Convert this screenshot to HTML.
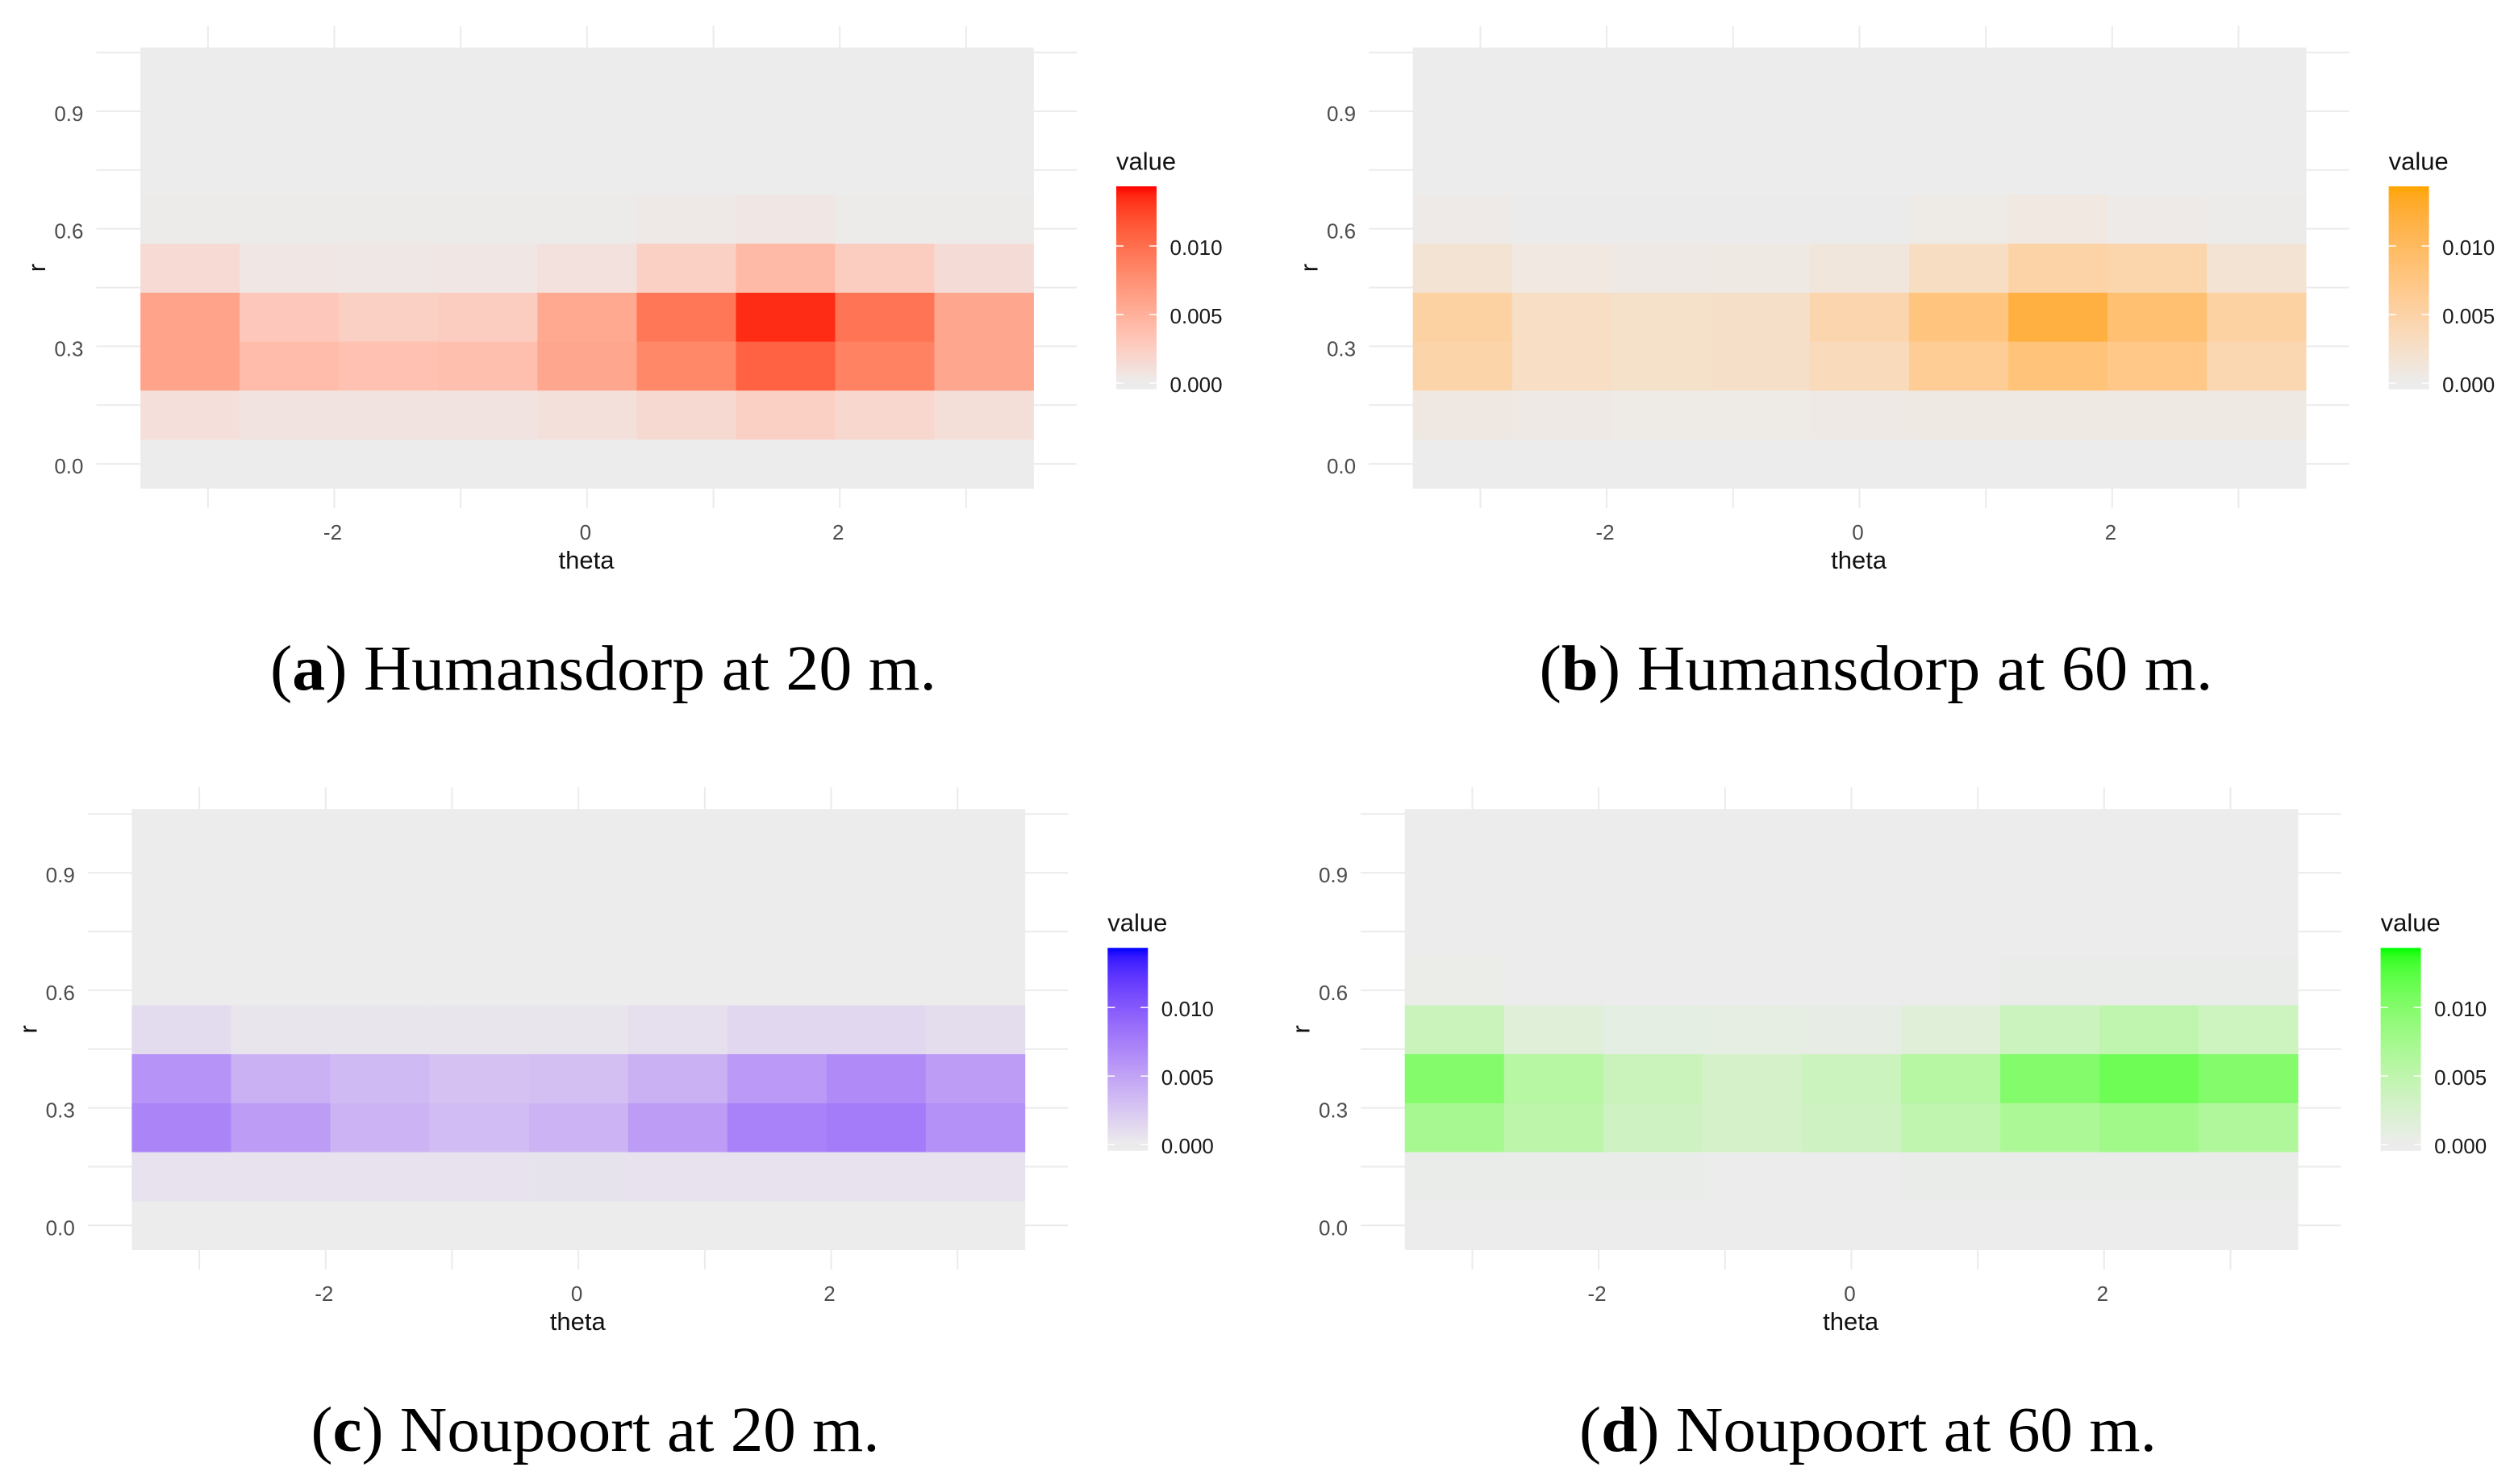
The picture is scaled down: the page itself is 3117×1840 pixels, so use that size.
<!DOCTYPE html>
<html lang="en">
<head>
<meta charset="utf-8">
<title>Heatmaps of r and theta for Humansdorp and Noupoort</title>
<style>
html,body{margin:0;padding:0;background:#fff;}
svg{display:block;}
text{font-family:"Liberation Sans",Arial,sans-serif;}
.caption{font-family:"Liberation Serif","Times New Roman",serif;font-size:79px;fill:#000;}
.caption tspan.b{font-weight:bold;}
.axis-title{font-size:31px;fill:#111;}
.legend-title{font-size:31px;fill:#111;}
.tick{font-size:26px;fill:#4d4d4d;}
.legend-tick{font-size:26px;fill:#1a1a1a;}
</style>
</head>
<body>
<svg id="figure" xmlns="http://www.w3.org/2000/svg" width="3117" height="1840" viewBox="0 0 3117 1840">
  <rect width="3117" height="1840" fill="#ffffff"/>

  <g id="panel-a" transform="translate(0,0)">
    <g class="marks"></g>
    <text class="axis-title" x="727" y="705" text-anchor="middle">theta</text>
    <text class="axis-title" transform="translate(56,332) rotate(-90)" text-anchor="middle">r</text>
    <text class="legend-title" x="1384" y="210.5">value</text>
  </g>
  <g id="panel-b" transform="translate(1577.6,0)">
    <g class="marks"></g>
    <text class="axis-title" x="727" y="705" text-anchor="middle">theta</text>
    <text class="axis-title" transform="translate(56,332) rotate(-90)" text-anchor="middle">r</text>
    <text class="legend-title" x="1384" y="210.5">value</text>
  </g>
  <g id="panel-c" transform="translate(-10.7,944.2)">
    <g class="marks"></g>
    <text class="axis-title" x="727" y="705" text-anchor="middle">theta</text>
    <text class="axis-title" transform="translate(56,332) rotate(-90)" text-anchor="middle">r</text>
    <text class="legend-title" x="1384" y="210.5">value</text>
  </g>
  <g id="panel-d" transform="translate(1567.6,944.2)">
    <g class="marks"></g>
    <text class="axis-title" x="727" y="705" text-anchor="middle">theta</text>
    <text class="axis-title" transform="translate(56,332) rotate(-90)" text-anchor="middle">r</text>
    <text class="legend-title" x="1384" y="210.5">value</text>
  </g>

  <text class="caption" x="335" y="855" textLength="826" lengthAdjust="spacingAndGlyphs">(<tspan class="b">a</tspan>) Humansdorp at 20 m.</text>
  <text class="caption" x="1908.5" y="855" textLength="835" lengthAdjust="spacingAndGlyphs">(<tspan class="b">b</tspan>) Humansdorp at 60 m.</text>
  <text class="caption" x="385.5" y="1799" textLength="705" lengthAdjust="spacingAndGlyphs">(<tspan class="b">c</tspan>) Noupoort at 20 m.</text>
  <text class="caption" x="1958" y="1799" textLength="716" lengthAdjust="spacingAndGlyphs">(<tspan class="b">d</tspan>) Noupoort at 60 m.</text>
</svg>

<script>
// Categories: bin centres
var thetaCategories = [-3.1416, -2.3562, -1.5708, -0.7854, 0, 0.7854, 1.5708, 2.3562, 3.1416];
var rCategories = [0, 0.125, 0.25, 0.375, 0.5, 0.625, 0.75, 0.875, 1];

// Tick labels
var thetaMajorTicks = [-2, 0, 2];
var thetaMinorTicks = [-3, -1, 1, 3];
var rMajorTicks = [0, 0.3, 0.6, 0.9];
var rMinorTicks = [0.15, 0.45, 0.75, 1.05];
var legendTicks = [0, 0.005, 0.01];
var legendRange = [-0.00045, 0.01435];

// Series values: one row per r category (bottom to top), one entry per theta category
var humansdorp20 = [
  [0, 0, 0, 0, 0, 0, 0, 0, 0],
  [0.0011, 0.0007, 0.0007, 0.0007, 0.0010, 0.0016, 0.0024, 0.0018, 0.0012],
  [0.0060, 0.0040, 0.0036, 0.0038, 0.0058, 0.0082, 0.0108, 0.0086, 0.0058],
  [0.0060, 0.0030, 0.0024, 0.0026, 0.0056, 0.0094, 0.0135, 0.0096, 0.0058],
  [0.0015, 0.0005, 0.0004, 0.0005, 0.0009, 0.0024, 0.0042, 0.0026, 0.0014],
  [0.0001, 0.0001, 0.0001, 0.0001, 0.0001, 0.0003, 0.0005, 0.0001, 0.0001],
  [0, 0, 0, 0, 0, 0, 0, 0, 0],
  [0, 0, 0, 0, 0, 0, 0, 0, 0],
  [0, 0, 0, 0, 0, 0, 0, 0, 0]
];
var humansdorp60 = [
  [0, 0, 0, 0, 0, 0, 0, 0, 0],
  [0.0007, 0.0005, 0.0004, 0.0004, 0.0005, 0.0006, 0.0006, 0.0006, 0.0006],
  [0.0048, 0.0028, 0.0024, 0.0026, 0.0036, 0.0062, 0.0082, 0.0072, 0.0042],
  [0.0052, 0.0028, 0.0024, 0.0026, 0.0045, 0.0078, 0.0120, 0.0088, 0.0052],
  [0.0018, 0.0008, 0.0005, 0.0006, 0.0012, 0.0030, 0.0050, 0.0046, 0.0018],
  [0.0003, 0.0001, 0.0001, 0.0001, 0.0001, 0.0004, 0.0008, 0.0003, 0.0002],
  [0, 0, 0, 0, 0, 0, 0, 0, 0],
  [0, 0, 0, 0, 0, 0, 0, 0, 0],
  [0, 0, 0, 0, 0, 0, 0, 0, 0]
];
var noupoort20 = [
  [0, 0, 0, 0, 0, 0, 0, 0, 0],
  [0.0007, 0.0007, 0.0007, 0.0007, 0.0006, 0.0007, 0.0007, 0.0007, 0.0007],
  [0.0070, 0.0054, 0.0038, 0.0032, 0.0038, 0.0054, 0.0072, 0.0076, 0.0062],
  [0.0060, 0.0040, 0.0034, 0.0028, 0.0030, 0.0040, 0.0056, 0.0066, 0.0054],
  [0.0011, 0.0005, 0.0005, 0.0005, 0.0005, 0.0008, 0.0014, 0.0014, 0.0010],
  [0, 0, 0, 0, 0, 0, 0, 0, 0],
  [0, 0, 0, 0, 0, 0, 0, 0, 0],
  [0, 0, 0, 0, 0, 0, 0, 0, 0],
  [0, 0, 0, 0, 0, 0, 0, 0, 0]
];
var noupoort60 = [
  [0, 0, 0, 0, 0, 0, 0, 0, 0],
  [0.0002, 0.0002, 0.0002, 0.0001, 0.0001, 0.0002, 0.0002, 0.0002, 0.0002],
  [0.0072, 0.0052, 0.0034, 0.0028, 0.0034, 0.0050, 0.0068, 0.0078, 0.0064],
  [0.0100, 0.0058, 0.0040, 0.0028, 0.0038, 0.0058, 0.0100, 0.0114, 0.0100],
  [0.0040, 0.0016, 0.0008, 0.0007, 0.0006, 0.0016, 0.0038, 0.0050, 0.0036],
  [0.0003, 0.0001, 0.0001, 0.0001, 0.0001, 0.0001, 0.0002, 0.0002, 0.0002],
  [0, 0, 0, 0, 0, 0, 0, 0, 0],
  [0, 0, 0, 0, 0, 0, 0, 0, 0],
  [0, 0, 0, 0, 0, 0, 0, 0, 0]
];

var NS = 'http://www.w3.org/2000/svg';

// Axis functions (panel-local pixels)
var plotLeft = 174.1, plotRight = 1281.6, plotTop = 59, plotBottom = 605.5;
var thetaStep = 0.7854, rStep = 0.125;
function xScale(t) {
  var lo = thetaCategories[0] - thetaStep / 2;
  var hi = thetaCategories[thetaCategories.length - 1] + thetaStep / 2;
  return plotLeft + (t - lo) / (hi - lo) * (plotRight - plotLeft);
}
function yScale(r) {
  var lo = rCategories[0] - rStep / 2;
  var hi = rCategories[rCategories.length - 1] + rStep / 2;
  return plotBottom - (r - lo) / (hi - lo) * (plotBottom - plotTop);
}
function legendY(v) {
  return 475 - v * 17000;
}

// Colour scale: ggplot-like Lab interpolation
var lowColor = '#ececec';
function toLab(hex) {
  var c = [1, 3, 5].map(function (i) {
    var u = parseInt(hex.substr(i, 2), 16) / 255;
    return u > 0.04045 ? Math.pow((u + 0.055) / 1.055, 2.4) : u / 12.92;
  });
  var X = (0.4124564 * c[0] + 0.3575761 * c[1] + 0.1804375 * c[2]) / 0.95047;
  var Y = 0.2126729 * c[0] + 0.7151522 * c[1] + 0.0721750 * c[2];
  var Z = (0.0193339 * c[0] + 0.1191920 * c[1] + 0.9503041 * c[2]) / 1.08883;
  function f(t) { return t > 0.008856 ? Math.cbrt(t) : 7.787 * t + 16 / 116; }
  return [116 * f(Y) - 16, 500 * (f(X) - f(Y)), 200 * (f(Y) - f(Z))];
}
function fromLab(L) {
  var fy = (L[0] + 16) / 116, fx = L[1] / 500 + fy, fz = fy - L[2] / 200;
  function g(t) { var c = t * t * t; return c > 0.008856 ? c : (t - 16 / 116) / 7.787; }
  var X = g(fx) * 0.95047, Y = g(fy), Z = g(fz) * 1.08883;
  var rgb = [
    3.2404542 * X - 1.5371385 * Y - 0.4985314 * Z,
    -0.9692660 * X + 1.8760108 * Y + 0.0415560 * Z,
    0.0556434 * X - 0.2040259 * Y + 1.0572252 * Z
  ].map(function (u) {
    u = Math.max(0, Math.min(1, u));
    u = u > 0.0031308 ? 1.055 * Math.pow(u, 1 / 2.4) - 0.055 : 12.92 * u;
    return Math.round(u * 255);
  });
  return 'rgb(' + rgb.join(',') + ')';
}
function colorFor(v, high) {
  if (v <= 0) { return lowColor; }
  var t = Math.min(1, v / legendRange[1]);
  var a = toLab(lowColor), b = toLab(high);
  return fromLab([a[0] + (b[0] - a[0]) * t, a[1] + (b[1] - a[1]) * t, a[2] + (b[2] - a[2]) * t]);
}

function make(tag, attrs, parent) {
  var el = document.createElementNS(NS, tag);
  for (var k in attrs) { el.setAttribute(k, attrs[k]); }
  parent.appendChild(el);
  return el;
}

function drawPanel(id, values, high) {
  var root = document.querySelector('#' + id + ' .marks');
  var gridColor = '#ebebeb';

  rMajorTicks.concat(rMinorTicks).forEach(function (r) {
    var line = make('line', { x1: 119.5, x2: 1335, y1: yScale(r), y2: yScale(r), stroke: gridColor, 'stroke-width': 2 }, root);
    
    
  });
  thetaMajorTicks.concat(thetaMinorTicks).forEach(function (t) {
    var line = make('line', { x1: xScale(t), x2: xScale(t), y1: 32, y2: 630, stroke: gridColor, 'stroke-width': 2 }, root);
    
    
  });

  rCategories.forEach(function (r, ri) {
    thetaCategories.forEach(function (t, ti) {
      var x0 = xScale(t - thetaStep / 2), x1 = xScale(t + thetaStep / 2);
      var y0 = yScale(r + rStep / 2), y1 = yScale(r - rStep / 2);
      var cell = make('rect', { x: x0, y: y0, width: x1 - x0 + 0.3, height: y1 - y0 + 0.3, fill: colorFor(values[ri][ti], high) }, root);
      
      
    });
  });

  rMajorTicks.forEach(function (r) {
    var label = make('text', { x: 103.5, y: yScale(r) + 12, 'text-anchor': 'end', 'class': 'tick' }, root);
    
    
    label.textContent = r.toFixed(1);
  });
  thetaMajorTicks.forEach(function (t) {
    var label = make('text', { x: xScale(t) - 2, y: 669, 'text-anchor': 'middle', 'class': 'tick' }, root);
    
    
    label.textContent = String(t);
  });

  // Legend colour bar
  var gradId = id + '-gradient';
  var defs = make('defs', {}, root);
  var grad = make('linearGradient', { id: gradId, x1: 0, y1: 1, x2: 0, y2: 0 }, defs);
  var stopCount = 24;
  for (var i = 0; i <= stopCount; i++) {
    var frac = i / stopCount;
    var v = legendRange[0] + (legendRange[1] - legendRange[0]) * frac;
    make('stop', { offset: frac, 'stop-color': colorFor(v, high) }, grad);
  }
  var barTop = legendY(legendRange[1]), barBottom = legendY(legendRange[0]);
  var bar = make('rect', { x: 1384, y: barTop, width: 50, height: barBottom - barTop, fill: 'url(#' + gradId + ')' }, root);
  
  

  legendTicks.forEach(function (v) {
    var left = make('line', { x1: 1384, x2: 1393, y1: legendY(v), y2: legendY(v), stroke: '#ffffff', 'stroke-width': 1.5 }, root);
    
    
    var right = make('line', { x1: 1425, x2: 1434, y1: legendY(v), y2: legendY(v), stroke: '#ffffff', 'stroke-width': 1.5 }, root);
    
    
    var label = make('text', { x: 1450.5, y: legendY(v) + 11, 'class': 'legend-tick' }, root);
    
    
    label.textContent = v.toFixed(3);
  });
}

drawPanel('panel-a', humansdorp20, '#ff0000');
drawPanel('panel-b', humansdorp60, '#ffa500');
drawPanel('panel-c', noupoort20, '#0000ff');
drawPanel('panel-d', noupoort60, '#00ff00');
</script>
</body>
</html>
